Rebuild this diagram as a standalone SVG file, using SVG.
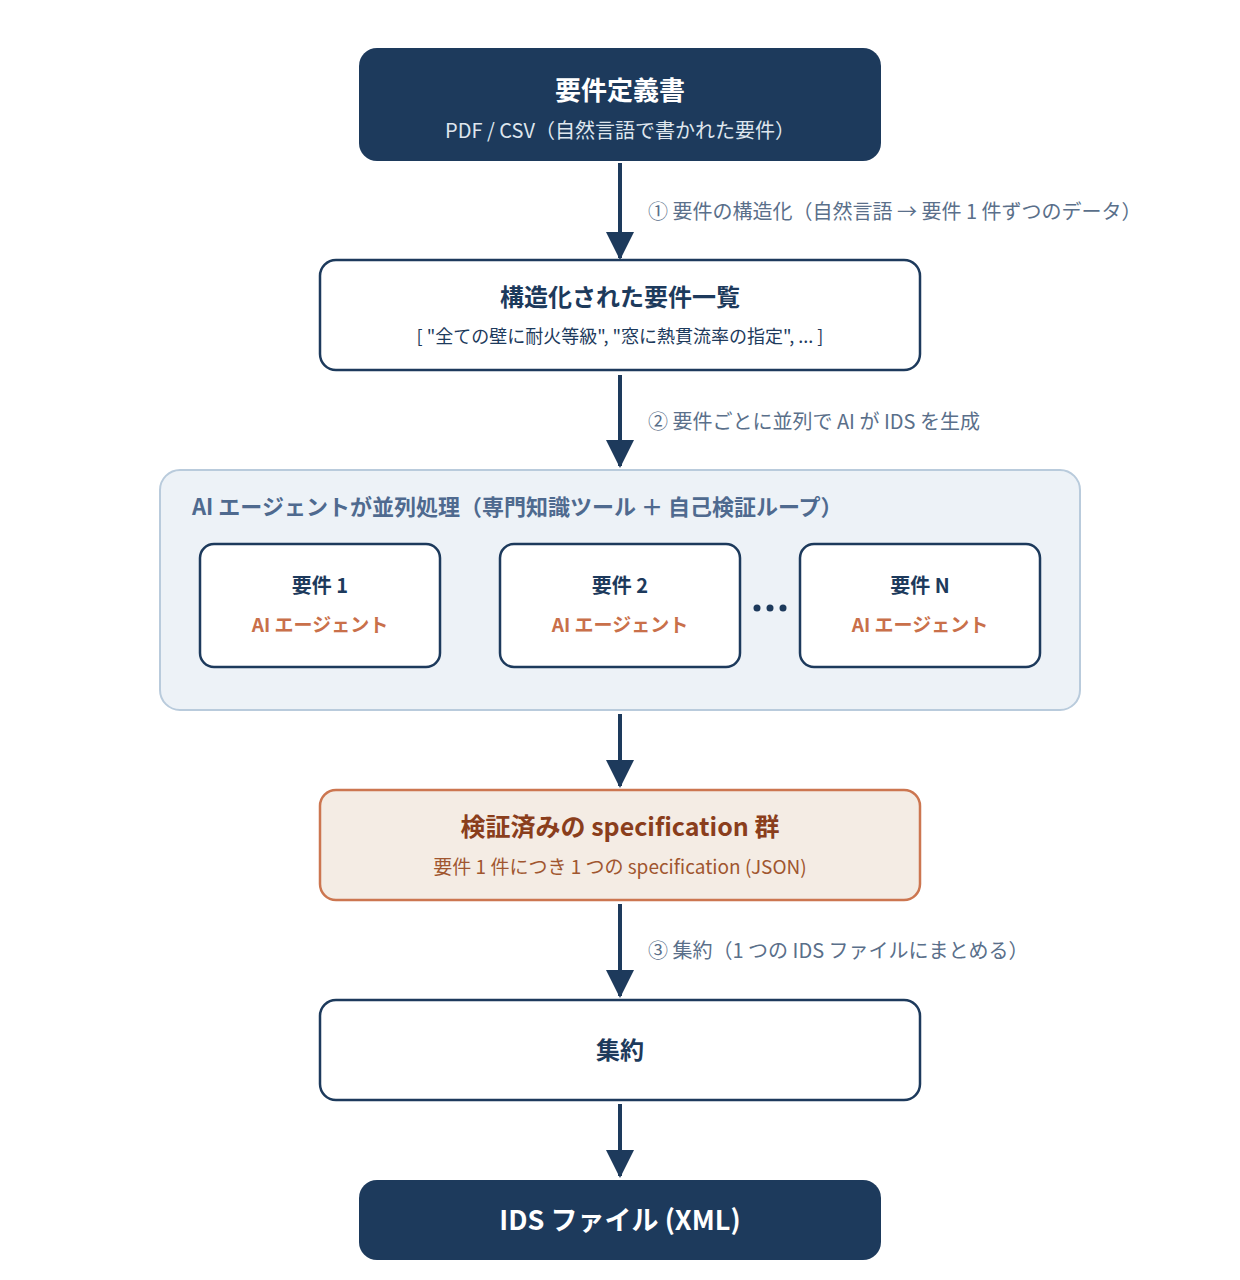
<svg xmlns="http://www.w3.org/2000/svg" width="1240" height="1280" viewBox="0 0 1240 1280">
<style>
text{font-family:"Noto Sans CJK JP","Noto Sans",sans-serif;text-anchor:middle;dominant-baseline:central}
.dark{fill:#1d3a5c}
.box{fill:#fff;stroke:#1d3a5c;stroke-width:2.5}
.t{font-weight:700;fill:#1d3a5c}
.lbl{fill:#5a6f8a;font-size:20px;text-anchor:start}
.gl{font-size:22px;font-weight:700;fill:#4f6a8f;text-anchor:start}
.ag{font-weight:700;fill:#c9704a;font-size:19px}
.line{stroke:#1d3a5c;stroke-width:4;fill:none}
</style>
<defs>
<marker id="a" viewBox="0 0 28 28" refX="26" refY="14" markerWidth="28" markerHeight="28" markerUnits="userSpaceOnUse" orient="auto"><path d="M0,0L28,14L0,28z" fill="#1d3a5c"/></marker></defs>
<g id="connectors">
<line class="line" x1="620" y1="163" x2="620" y2="258" marker-end="url(#a)"/>
<line class="line" x1="620" y1="375" x2="620" y2="466" marker-end="url(#a)"/>
<line class="line" x1="620" y1="714" x2="620" y2="786" marker-end="url(#a)"/>
<line class="line" x1="620" y1="904" x2="620" y2="996" marker-end="url(#a)"/>
<line class="line" x1="620" y1="1104" x2="620" y2="1176" marker-end="url(#a)"/>
<text class="lbl" x="648" y="210">① 要件の構造化（自然言語 → 要件 1 件ずつのデータ）</text>
<text class="lbl" x="648" y="420">② 要件ごとに並列で AI が IDS を生成</text>
<text class="lbl" x="648" y="949">③ 集約（1 つの IDS ファイルにまとめる）</text>
</g>
<g id="n1"><rect class="dark" x="359" y="48" width="522" height="113" rx="18"/>
<text x="620" y="88" font-size="26" font-weight="700" fill="#fff">要件定義書</text>
<text x="620" y="129" font-size="20" fill="#dfe6ee">PDF / CSV（自然言語で書かれた要件）</text></g>
<g id="n2"><rect class="box" x="320" y="260" width="600" height="110" rx="16"/>
<text class="t" x="620" y="295" font-size="24">構造化された要件一覧</text>
<text x="620" y="335" font-size="18" fill="#1d3a5c">[ "全ての壁に耐火等級", "窓に熱貫流率の指定", ... ]</text></g>
<g id="grp"><rect x="160" y="470" width="920" height="240" rx="20" fill="#edf2f7" stroke="#b9cbdc" stroke-width="2"/>
<text class="gl" x="192" y="505">AI エージェントが並列処理（専門知識ツール ＋ 自己検証ループ）</text>
<circle cx="757" cy="608" r="3.5" fill="#1d3a5c"/><circle cx="770" cy="608" r="3.5" fill="#1d3a5c"/><circle cx="783" cy="608" r="3.5" fill="#1d3a5c"/></g>
<g id="r1"><rect class="box" x="200" y="544" width="240" height="123" rx="14"/><text class="t" x="320" y="584" font-size="20">要件 1</text><text class="ag" x="320" y="623">AI エージェント</text></g>
<g id="r2"><rect class="box" x="500" y="544" width="240" height="123" rx="14"/><text class="t" x="620" y="584" font-size="20">要件 2</text><text class="ag" x="620" y="623">AI エージェント</text></g>
<g id="rN"><rect class="box" x="800" y="544" width="240" height="123" rx="14"/><text class="t" x="920" y="584" font-size="20">要件 N</text><text class="ag" x="920" y="623">AI エージェント</text></g>
<g id="spec"><rect x="320" y="790" width="600" height="110" rx="16" fill="#f4ece4" stroke="#cc7650" stroke-width="2.5"/>
<text x="620" y="825" font-size="25" font-weight="700" fill="#8a3e1c">検証済みの specification 群</text>
<text x="620" y="865" font-size="19" fill="#a0562f">要件 1 件につき 1 つの specification (JSON)</text></g>
<g id="agg"><rect class="box" x="320" y="1000" width="600" height="100" rx="16"/><text class="t" x="620" y="1048" font-size="24">集約</text></g>
<g id="out"><rect class="dark" x="359" y="1180" width="522" height="80" rx="18"/><text x="620" y="1218" font-size="27" font-weight="700" fill="#fff">IDS ファイル (XML)</text></g>
</svg>
